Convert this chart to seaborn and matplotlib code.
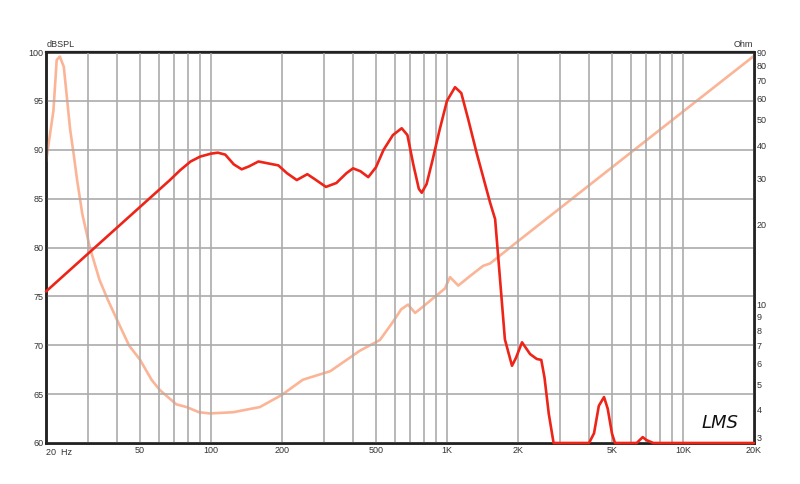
import numpy as np
import pandas as pd
import matplotlib
matplotlib.use("Agg")
import matplotlib.pyplot as plt
from matplotlib.ticker import FixedLocator, NullLocator, FixedFormatter
import seaborn as sns

# ---- data ----
spl_freq = [20, 67, 74, 82, 90, 100, 107, 115, 125, 135, 145, 159, 175, 193, 210, 231,
            256, 275, 307, 340, 375, 400, 430, 464, 500, 539, 590, 643, 680, 720, 760,
            782, 820, 870, 930, 1000, 1082, 1150, 1231, 1335, 1450, 1523, 1600, 1670,
            1760, 1886, 1960, 2080, 2250, 2400, 2510, 2590, 2700, 2830, 4000, 4200,
            4400, 4630, 4800, 5000, 5150, 6370, 6750, 7000, 7490, 20000]
spl_db = [75.5, 86.9, 87.9, 88.8, 89.3, 89.6, 89.7, 89.5, 88.5, 88.0, 88.3, 88.8, 88.6,
          88.4, 87.6, 86.9, 87.5, 87.0, 86.2, 86.6, 87.6, 88.1, 87.8, 87.2, 88.2, 90.0,
          91.5, 92.2, 91.5, 88.5, 86.0, 85.6, 86.5, 89.0, 92.0, 95.0, 96.4, 95.8, 93.1,
          89.7, 86.5, 84.6, 82.9, 77.4, 70.6, 67.9, 68.7, 70.3, 69.1, 68.6, 68.5, 66.7,
          63.0, 60.0, 60.0, 61.0, 63.8, 64.7, 63.5, 61.0, 60.0, 60.0, 60.6, 60.3, 60.0,
          60.0]

imp_freq = [20, 21.5, 22.2, 22.9, 23.8, 25.3, 26.2, 27.1, 28.5, 30.7, 33.7, 36.6, 39.9,
            45, 50, 56, 60.8, 71.3, 78.9, 89, 99, 124, 161, 199, 245, 262, 320, 428,
            520, 590, 640, 684, 733, 800, 980, 1030, 1117, 1250, 1422, 1523, 2040,
            4450, 20000]
imp_ohm = [34.6, 54, 84, 86.5, 79, 46, 37, 29.5, 22, 16.4, 12.4, 10.4, 8.8, 7.0, 6.2,
           5.2, 4.75, 4.2, 4.1, 3.92, 3.88, 3.92, 4.1, 4.55, 5.2, 5.3, 5.6, 6.7, 7.35,
           8.6, 9.6, 10.0, 9.3, 9.9, 11.5, 12.7, 11.8, 12.8, 14.0, 14.3, 17.6, 30.4, 87]

x_ticks = [50, 100, 200, 500, 1000, 2000, 5000, 10000, 20000]
x_labels = ["50", "100", "200", "500", "1K", "2K", "5K", "10K", "20K"]
x_grid = [f * m for f in (10, 100, 1000, 10000) for m in range(1, 10)
          if 20 <= f * m <= 20000]
left_ticks = [60, 65, 70, 75, 80, 85, 90, 95, 100]
right_ticks = [3, 4, 5, 6, 7, 8, 9, 10, 20, 30, 40, 50, 60, 70, 80, 90]

spl_df = pd.DataFrame({"freq": spl_freq, "db": spl_db})
imp_df = pd.DataFrame({"freq": imp_freq, "ohm": imp_ohm})

# ---- style ----
sns.set_theme(style="white")
plt.rcParams["font.family"] = ["Liberation Sans", "DejaVu Sans"]

RED = "#EE2418"
SALMON = "#FBB596"
GRID = "#ABABAB"
TXT = "#333333"

fig = plt.figure(figsize=(8, 4.84), dpi=100)
ax = fig.add_axes([46 / 800, 1 - 443 / 484, 708 / 800, 391 / 484])
ax2 = ax.twinx()

ax.set_xscale("log")
ax.set_xlim(20, 20000)
ax.set_ylim(60, 100)
ax2.set_yscale("log")
ax2.set_ylim(3, 90)

# grid
ax.xaxis.set_major_locator(FixedLocator(x_grid))
ax.xaxis.set_minor_locator(NullLocator())
ax.yaxis.set_major_locator(FixedLocator(left_ticks))
ax.grid(True, which="major", color=GRID, linewidth=1.2)
ax.set_axisbelow(True)
ax.xaxis.set_major_formatter(FixedFormatter(
    [dict(zip(x_ticks, x_labels)).get(v, "") for v in x_grid]))
ax.yaxis.set_major_formatter(FixedFormatter([str(v) for v in left_ticks]))

ax2.yaxis.set_major_locator(FixedLocator(right_ticks))
ax2.yaxis.set_minor_locator(NullLocator())
ax2.yaxis.set_major_formatter(FixedFormatter([str(v) for v in right_ticks]))
ax2.grid(False)

for a in (ax, ax2):
    a.tick_params(length=0, labelsize=6.5, labelcolor=TXT, pad=2)
    for s in a.spines.values():
        s.set_color("#222222")
        s.set_linewidth(1.8)
ax.spines["top"].set_linewidth(1.6)

# lift the lowest right-hand label so it clears "20K"
fig.canvas.draw()
ax2.get_yticklabels()[0].set_va("bottom")

# curves
sns.lineplot(data=imp_df, x="freq", y="ohm", ax=ax2, color=SALMON, linewidth=1.9,
             sort=False, estimator=None, legend=False, zorder=3)
sns.lineplot(data=spl_df, x="freq", y="db", ax=ax, color=RED, linewidth=1.9,
             sort=False, estimator=None, legend=False, clip_on=False, zorder=4)
ax.set_zorder(ax2.get_zorder() + 1)
ax.patch.set_visible(False)
for a in (ax, ax2):
    a.set_xlabel("")
    a.set_ylabel("")

ax.text(0.0, -0.012, "20  Hz", transform=ax.transAxes, ha="left", va="top",
        fontsize=6.5, color=TXT)
ax.text(0.0015, 1.008, "dBSPL", transform=ax.transAxes, ha="left", va="bottom",
        fontsize=6.5, color=TXT)
ax.text(0.9985, 1.008, "Ohm", transform=ax.transAxes, ha="right", va="bottom",
        fontsize=6.5, color=TXT)
ax.text(0.952, 0.028, "LMS", transform=ax.transAxes, ha="center", va="bottom",
        fontsize=13, color="#111111", style="italic", fontfamily="DejaVu Sans",
        fontweight="light")

fig.savefig("out.png", dpi=100)
